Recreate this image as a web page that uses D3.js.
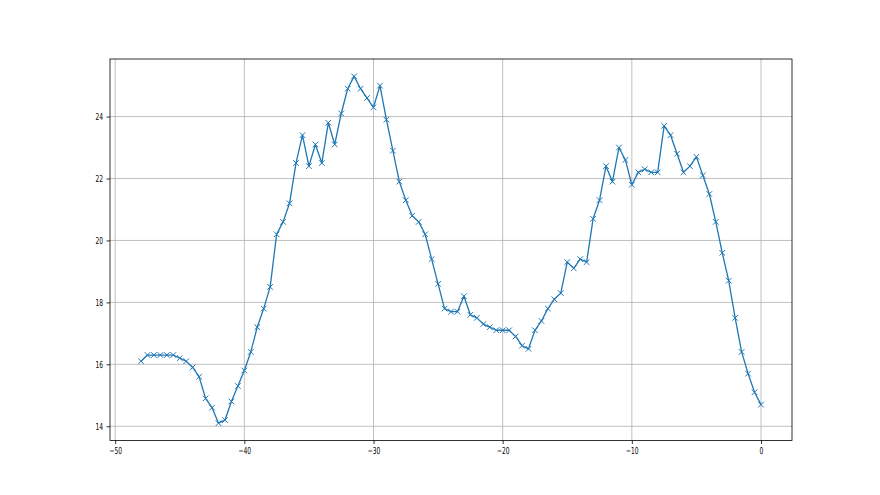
<!DOCTYPE html>
<html><head><meta charset="utf-8">
<script src="https://cdn.jsdelivr.net/npm/d3@7"></script>
<style>body{margin:0;background:#fff}svg{display:block}text{font-family:"DejaVu Sans",sans-serif;font-size:9.6px;fill:#000}</style>
</head><body><svg id="c" width="880" height="495"></svg>
<script>
const xStart = -48, xStep = 0.5;
const values = [
16.1,16.3,16.3,16.3,16.3,16.3,16.2,16.1,15.9,15.6,
14.9,14.6,14.1,14.2,14.8,15.3,15.8,16.4,17.2,17.8,
18.5,20.2,20.6,21.2,22.5,23.4,22.4,23.1,22.5,23.8,
23.1,24.1,24.9,25.3,24.9,24.6,24.3,25.0,23.9,22.9,
21.9,21.3,20.8,20.6,20.2,19.4,18.6,17.8,17.7,17.7,
18.2,17.6,17.5,17.3,17.2,17.1,17.1,17.1,16.9,16.6,
16.5,17.1,17.4,17.8,18.1,18.3,19.3,19.1,19.4,19.3,
20.7,21.3,22.4,21.9,23.0,22.6,21.8,22.2,22.3,22.2,
22.2,23.7,23.4,22.8,22.2,22.4,22.7,22.1,21.5,20.6,
19.6,18.7,17.5,16.4,15.7,15.1,14.7];
const xs = values.map((v,i)=>xStart + i*xStep);
const xTicks = [-50,-40,-30,-20,-10,0];
const yTicks = [14,16,18,20,22,24];

const svg = d3.select('#c');
const L=110, R=792, T=59, B=440.5;
const xMin=d3.min(xs), xMax=d3.max(xs), yMin=d3.min(values), yMax=d3.max(values);
const xPad=(xMax-xMin)*0.05, yPad=(yMax-yMin)*0.05;
const x = d3.scaleLinear().domain([xMin-xPad, xMax+xPad]).range([L,R]);
const y = d3.scaleLinear().domain([yMin-yPad, yMax+yPad]).range([B,T]);

const g = svg.append('g');
// grid
g.selectAll('.gx').data(xTicks).join('line')
 .attr('x1',d=>x(d)).attr('x2',d=>x(d)).attr('y1',T).attr('y2',B)
 .attr('stroke','#b0b0b0').attr('stroke-width',0.8);
g.selectAll('.gy').data(yTicks).join('line')
 .attr('y1',d=>y(d)).attr('y2',d=>y(d)).attr('x1',L).attr('x2',R)
 .attr('stroke','#b0b0b0').attr('stroke-width',0.8);

// line
const pts = xs.map((xv,i)=>[xv, values[i]]);
g.append('path').datum(pts)
 .attr('d', d3.line().x(d=>x(d[0])).y(d=>y(d[1])))
 .attr('fill','none').attr('stroke','#1f77b4').attr('stroke-width',1.3).attr('stroke-linejoin','round');
// x markers
const m=2.8;
g.selectAll('.mk').data(pts).join('path')
 .attr('d', d=>{const cx=x(d[0]), cy=y(d[1]); return `M${cx-m},${cy-m}L${cx+m},${cy+m}M${cx-m},${cy+m}L${cx+m},${cy-m}`;})
 .attr('stroke','#1f77b4').attr('stroke-width',1);

// spines
svg.append('rect').attr('x',L).attr('y',T).attr('width',R-L).attr('height',B-T)
 .attr('fill','none').attr('stroke','#000').attr('stroke-width',0.8);

// axes ticks
const xa = svg.append('g').attr('transform',`translate(0,${B})`)
 .call(d3.axisBottom(x).tickValues(xTicks).tickSize(3.5).tickPadding(3.5).tickFormat(d=>d<0?'\u2212'+Math.abs(d):d));
const ya = svg.append('g').attr('transform',`translate(${L},0)`)
 .call(d3.axisLeft(y).tickValues(yTicks).tickSize(3.5).tickPadding(3.5));
[xa,ya].forEach(a=>{a.select('.domain').remove(); a.selectAll('line').attr('stroke','#000').attr('stroke-width',0.8);
 a.selectAll('text').attr('font-size',null).attr('font-family',null);});
// horizontal compression of tick labels to match reference
xa.selectAll('.tick text').each(function(){const t=d3.select(this); const yy=+t.attr('y'); t.attr('transform','scale(0.62,1)');});
ya.selectAll('.tick text').each(function(){const t=d3.select(this); const xx=+t.attr('x'); t.attr('x',xx/0.62).attr('transform','scale(0.62,1)');});
</script></body></html>
